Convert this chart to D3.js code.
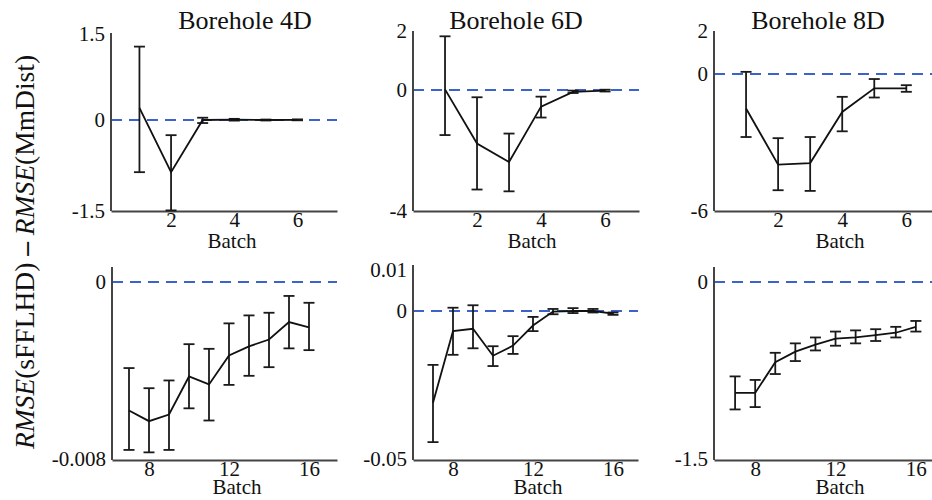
<!DOCTYPE html>
<html><head><meta charset="utf-8">
<script src="https://cdn.jsdelivr.net/npm/d3@7"></script>
<style>
body{margin:0;background:#fff}
svg{display:block}
text{font-family:"Liberation Serif","Times New Roman",serif;fill:#111}
</style>
</head><body><svg id="c" width="932" height="500"></svg>
<script>
// ---------------- data ----------------
const titles = ["Borehole 4D", "Borehole 6D", "Borehole 8D"];
const batchesTop = [1, 2, 3, 4, 5, 6];
const batchesBottom = [7, 8, 9, 10, 11, 12, 13, 14, 15, 16];
const xTicksTop = [2, 4, 6];
const xTicksBottom = [8, 12, 16];
const xLabel = "Batch";

// top row (batches 1-6)
const mean4DTop = [0.21, -0.86, 0.00, 0.005, 0.00, 0.003];
const lo4DTop   = [-0.86, -1.49, -0.05, -0.01, -0.008, -0.005];
const hi4DTop   = [1.28, -0.25, 0.04, 0.02, 0.008, 0.011];
const yTicks4DTop = [-1.5, 0, 1.5];

const mean6DTop = [0.02, -1.77, -2.38, -0.55, -0.06, -0.02];
const lo6DTop   = [-1.49, -3.29, -3.35, -0.91, -0.10, -0.05];
const hi6DTop   = [1.82, -0.24, -1.44, -0.22, -0.02, 0.01];
const yTicks6DTop = [-4, 0, 2];

const mean8DTop = [-1.51, -3.97, -3.90, -1.66, -0.63, -0.63];
const lo8DTop   = [-2.76, -5.09, -5.12, -2.51, -1.03, -0.78];
const hi8DTop   = [0.10, -2.81, -2.76, -1.00, -0.22, -0.49];
const yTicks8DTop = [-6, 0, 2];

// bottom row (batches 7-16)
const mean4DBot = [-0.00581, -0.00629, -0.00599, -0.00427, -0.00463, -0.00332, -0.00291, -0.00260, -0.00181, -0.00205];
const lo4DBot   = [-0.00759, -0.00770, -0.00759, -0.00571, -0.00626, -0.00465, -0.00424, -0.00385, -0.00300, -0.00308];
const hi4DBot   = [-0.00389, -0.00480, -0.00445, -0.00281, -0.00302, -0.00187, -0.00151, -0.00139, -0.00063, -0.00094];
const yTicks4DBot = [-0.008, 0];

const mean6DBot = [-0.0310, -0.0068, -0.0060, -0.0151, -0.0117, -0.0049, -0.0002, 0.0000, 0.0000, -0.0009];
const lo6DBot   = [-0.0443, -0.0148, -0.0126, -0.0186, -0.0145, -0.0068, -0.0011, -0.0007, -0.0005, -0.0013];
const hi6DBot   = [-0.0182, 0.0008, 0.0014, -0.0119, -0.0085, -0.0020, 0.0005, 0.0007, 0.0005, -0.0005];
const yTicks6DBot = [-0.05, 0, 0.01];

const mean8DBot = [-0.94, -0.94, -0.68, -0.59, -0.53, -0.48, -0.47, -0.45, -0.43, -0.38];
const lo8DBot   = [-1.08, -1.06, -0.78, -0.67, -0.58, -0.54, -0.52, -0.50, -0.47, -0.42];
const hi8DBot   = [-0.80, -0.83, -0.60, -0.52, -0.47, -0.42, -0.41, -0.40, -0.38, -0.33];
const yTicks8DBot = [-1.5, 0];

// ---------------- layout ----------------
const panels = [
  {title: titles[0], b: batchesTop, m: mean4DTop, lo: lo4DTop, hi: hi4DTop, yt: yTicks4DTop, xt: xTicksTop,
   xDom: [0.1, 7.25], xR: [111, 337], yR: [211, 120, 34], top: 33, axisY: 211, tx: 245, lx: 232, lDy: 37},
  {title: titles[1], b: batchesTop, m: mean6DTop, lo: lo6DTop, hi: hi6DTop, yt: yTicks6DTop, xt: xTicksTop,
   xDom: [0.0, 7.06], xR: [413, 639], yR: [211, 90, 31], top: 31, axisY: 211, tx: 516, lx: 532, lDy: 37},
  {title: titles[2], b: batchesTop, m: mean8DTop, lo: lo8DTop, hi: hi8DTop, yt: yTicks8DTop, xt: xTicksTop,
   xDom: [0.0, 7.3], xR: [714, 948], yR: [211, 74, 31], top: 31, axisY: 211, tx: 818, lx: 840, lDy: 37},
  {title: null, b: batchesBottom, m: mean4DBot, lo: lo4DBot, hi: hi4DBot, yt: yTicks4DBot, xt: xTicksBottom,
   xDom: [6.15, 17.4], xR: [112, 337], yR: [459, 282], top: 267, axisY: 460, lx: 237, lDy: 34},
  {title: null, b: batchesBottom, m: mean6DBot, lo: lo6DBot, hi: hi6DBot, yt: yTicks6DBot, xt: xTicksBottom,
   xDom: [6.0, 17.25], xR: [413, 638], yR: [459, 311, 270], top: 265, axisY: 460, lx: 538, lDy: 34},
  {title: null, b: batchesBottom, m: mean8DBot, lo: lo8DBot, hi: hi8DBot, yt: yTicks8DBot, xt: xTicksBottom,
   xDom: [5.95, 17.5], xR: [714, 946], yR: [459, 282], top: 267, axisY: 460, lx: 840, lDy: 34}
];

const svg = d3.select("#c");
const fmt = d => String(d);

panels.forEach(p => {
  const x = d3.scaleLinear().domain(p.xDom).range(p.xR);
  const y = d3.scaleLinear().domain(p.yt).range(p.yR);
  const g = svg.append("g");

  // zero reference line
  g.append("line")
    .attr("x1", p.xR[0]).attr("x2", p.xR[1])
    .attr("y1", y(0)).attr("y2", y(0))
    .attr("stroke", "#3d62cc").attr("stroke-width", 2)
    .attr("stroke-dasharray", "11,7");

  // y axis
  const ya = g.append("g").attr("transform", `translate(${p.xR[0]},0)`)
    .call(d3.axisLeft(y).tickValues(p.yt).tickFormat(fmt).tickSize(0).tickPadding(6));
  ya.select(".domain").remove();
  ya.selectAll("text").style("font-size", "21px").style("font-family", "Liberation Serif, serif").attr("fill", "#111");
  g.append("line").attr("x1", p.xR[0]).attr("x2", p.xR[0]).attr("y1", p.axisY).attr("y2", p.top)
    .attr("stroke", "#444").attr("stroke-width", 2);

  // x axis
  const xa = g.append("g").attr("transform", `translate(0,${p.axisY})`)
    .call(d3.axisBottom(x).tickValues(p.xt).tickFormat(fmt).tickSize(0).tickPadding(1));
  xa.select(".domain").attr("stroke", "#444").attr("stroke-width", 2.2);
  xa.selectAll("text").style("font-size", "21px").style("font-family", "Liberation Serif, serif").attr("fill", "#111");

  g.append("text").attr("x", p.lx).attr("y", p.axisY + p.lDy)
    .attr("text-anchor", "middle").style("font-size", "21px").text(xLabel);

  if (p.title) {
    g.append("text").attr("x", p.tx).attr("y", 29)
      .attr("text-anchor", "middle").style("font-size", "26px").text(p.title);
  }

  // error bars
  const cap = 5.5;
  const eb = g.append("g").attr("stroke", "#1a1a1a").attr("stroke-width", 1.8).attr("fill", "none");
  p.b.forEach((bv, i) => {
    const cx = x(bv);
    eb.append("line").attr("x1", cx).attr("x2", cx).attr("y1", y(p.lo[i])).attr("y2", y(p.hi[i]));
    eb.append("line").attr("x1", cx - cap).attr("x2", cx + cap).attr("y1", y(p.lo[i])).attr("y2", y(p.lo[i]));
    eb.append("line").attr("x1", cx - cap).attr("x2", cx + cap).attr("y1", y(p.hi[i])).attr("y2", y(p.hi[i]));
  });

  // mean line
  g.append("path").datum(p.b.map((bv, i) => [bv, p.m[i]]))
    .attr("fill", "none").attr("stroke", "#111").attr("stroke-width", 1.8)
    .attr("d", d3.line().x(d => x(d[0])).y(d => y(d[1])));
});

// y-axis title
const yl = svg.append("text")
  .attr("transform", "translate(34,252) rotate(-90)")
  .attr("text-anchor", "middle").style("font-size", "27.5px");
yl.append("tspan").style("font-style", "italic").text("RMSE");
yl.append("tspan").text("(sFFLHD) ");
yl.append("tspan").style("font-weight", "bold").text("–");
yl.append("tspan").text(" ");
yl.append("tspan").style("font-style", "italic").text("RMSE");
yl.append("tspan").text("(MmDist)");
</script>
</body></html>
